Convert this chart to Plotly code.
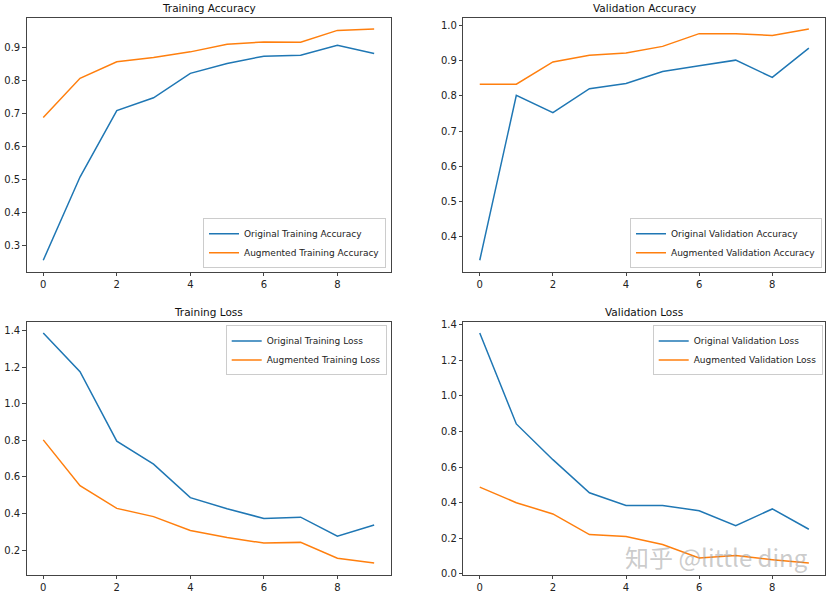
import plotly.graph_objects as go

epochs = list(range(10))

orig_train_acc = [0.256, 0.508, 0.709, 0.748, 0.822, 0.852, 0.874, 0.877, 0.907, 0.882]
aug_train_acc = [0.688, 0.807, 0.857, 0.870, 0.887, 0.910, 0.917, 0.916, 0.952, 0.956]

orig_val_acc = [0.334, 0.801, 0.752, 0.820, 0.835, 0.869, 0.885, 0.901, 0.852, 0.935]
aug_val_acc = [0.833, 0.833, 0.896, 0.915, 0.921, 0.940, 0.976, 0.976, 0.971, 0.989]

orig_train_loss = [1.388, 1.176, 0.796, 0.670, 0.487, 0.426, 0.373, 0.380, 0.276, 0.337]
aug_train_loss = [0.803, 0.552, 0.428, 0.383, 0.307, 0.269, 0.238, 0.242, 0.155, 0.129]

orig_val_loss = [1.354, 0.843, 0.642, 0.456, 0.385, 0.385, 0.355, 0.271, 0.365, 0.251]
aug_val_loss = [0.488, 0.400, 0.337, 0.221, 0.210, 0.165, 0.089, 0.103, 0.080, 0.061]

titles = ["Training Accuracy", "Validation Accuracy", "Training Loss", "Validation Loss"]
names = [
    ("Original Training Accuracy", "Augmented Training Accuracy"),
    ("Original Validation Accuracy", "Augmented Validation Accuracy"),
    ("Original Training Loss", "Augmented Training Loss"),
    ("Original Validation Loss", "Augmented Validation Loss"),
]
watermark = "知乎 @little ding"

series = [
    (orig_train_acc, aug_train_acc),
    (orig_val_acc, aug_val_acc),
    (orig_train_loss, aug_train_loss),
    (orig_val_loss, aug_val_loss),
]

BLUE = "#1f77b4"
ORANGE = "#ff7f0e"
FONT = "DejaVu Sans"
W, H = 833, 598

# pixel boxes of axes in page coordinates: (left, right, top, bottom)
boxes = [
    (26.7, 390.7, 15.7, 273.0),
    (463.3, 825.3, 15.7, 273.0),
    (26.7, 390.7, 323.3, 579.3),
    (463.3, 825.3, 323.3, 579.3),
]


def px(x):
    return x / W


def py(y):
    return 1 - y / H


fig = go.Figure()
legend_keys = ["legend", "legend2", "legend3", "legend4"]

for i in range(4):
    xa = "x" if i == 0 else f"x{i+1}"
    ya = "y" if i == 0 else f"y{i+1}"
    for j, (vals, col) in enumerate(zip(series[i], [BLUE, ORANGE])):
        fig.add_trace(go.Scatter(
            x=epochs, y=vals, mode="lines", name=names[i][j],
            line=dict(color=col, width=1.5),
            xaxis=xa, yaxis=ya, legend=legend_keys[i],
        ))

layout = dict(
    width=W, height=H,
    margin=dict(l=0, r=0, t=0, b=0),
    paper_bgcolor="white", plot_bgcolor="white",
    font=dict(family=FONT, size=10, color="#222"),
    showlegend=True,
)

for i, (l, r, t, b) in enumerate(boxes):
    xk = "xaxis" if i == 0 else f"xaxis{i+1}"
    yk = "yaxis" if i == 0 else f"yaxis{i+1}"
    ya = "y" if i == 0 else f"y{i+1}"
    xa = "x" if i == 0 else f"x{i+1}"
    allv = list(series[i][0]) + list(series[i][1])
    lo, hi = min(allv), max(allv)
    pad = (hi - lo) * 0.05
    common = dict(showline=True, linecolor="#444", linewidth=1, mirror=True,
                  ticks="outside", ticklen=3.5, tickcolor="#444", showgrid=False,
                  zeroline=False, tickfont=dict(family=FONT, size=10, color="#222"))
    layout[xk] = dict(domain=[px(l), px(r)], anchor=ya, range=[-0.45, 9.45],
                      tickmode="array", tickvals=[0, 2, 4, 6, 8], **common)
    dt = 0.1 if i < 2 else 0.2
    layout[yk] = dict(domain=[py(b), py(t)], anchor=xa, range=[lo - pad, hi + pad],
                      dtick=dt, tick0=0, tickformat=".1f", **common)

annotations = []
for i, (l, r, t, b) in enumerate(boxes):
    annotations.append(dict(
        text=titles[i], x=px((l + r) / 2), y=py(t - 1.5), xref="paper", yref="paper",
        xanchor="center", yanchor="bottom", showarrow=False,
        font=dict(family=FONT, size=10.5, color="#111"),
    ))
annotations.append(dict(
    text=watermark, x=px(716), y=py(561), xref="paper", yref="paper",
    xanchor="center", yanchor="middle", showarrow=False,
    font=dict(family="Noto Sans CJK SC", size=24, color="rgba(160,160,160,0.55)"),
))
layout["annotations"] = annotations

leg_common = dict(bgcolor="rgba(255,255,255,0.8)", bordercolor="#cccccc", borderwidth=1,
                  font=dict(family=FONT, size=9, color="#222"), itemwidth=30,
                  tracegroupgap=0)
layout["legend"] = dict(x=px(386), y=py(269.3), xanchor="right", yanchor="bottom", **leg_common)
layout["legend2"] = dict(x=px(822), y=py(269.3), xanchor="right", yanchor="bottom", **leg_common)
layout["legend3"] = dict(x=px(386.7), y=py(327.3), xanchor="right", yanchor="top", **leg_common)
layout["legend4"] = dict(x=px(822.7), y=py(327.3), xanchor="right", yanchor="top", **leg_common)

fig.update_layout(**layout)
fig.write_html("out.html", config={"displayModeBar": False},
               post_script="document.body.style.margin='0';")
